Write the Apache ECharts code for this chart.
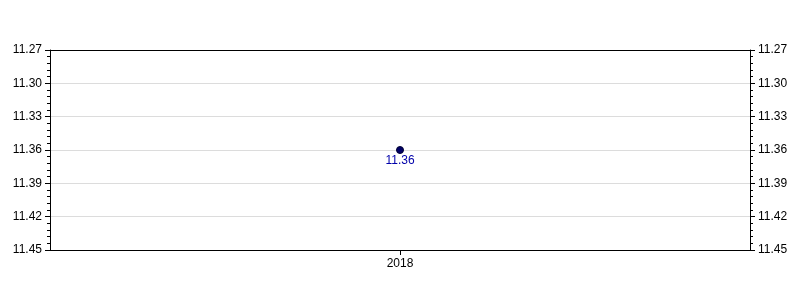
<!DOCTYPE html>
<html><head><meta charset="utf-8">
<script src="https://cdn.jsdelivr.net/npm/echarts@6/dist/echarts.min.js"></script>
<style>html,body{margin:0;padding:0;background:#fff}#c{width:800px;height:300px}</style>
</head><body><div id="c"></div>
<script>
const categories = ['2018'];
const values = [11.36];
const yMin = 11.27, yMax = 11.45, yStep = 0.03;

const chart = echarts.init(document.getElementById('c'), null, {renderer:'canvas'});
const font = {fontFamily:'Liberation Sans, Arial, sans-serif', fontSize:12, color:'#000'};
const yAxisCommon = {
  type:'value', inverse:true, min:yMin, max:yMax, interval:yStep,
  axisLine:{show:true, lineStyle:{color:'#000', width:1}},
  axisTick:{show:true, inside:false, length:5, lineStyle:{color:'#000'}},
  minorTick:{show:true, splitNumber:5, length:3, lineStyle:{color:'#000'}},
  axisLabel:Object.assign({formatter:v=>v.toFixed(2), margin:8}, font),
};
chart.setOption({
  animation:false,
  grid:{left:50, right:50, top:50, bottom:50, containLabel:false},
  xAxis:[
    {type:'category', data:categories, boundaryGap:true, position:'bottom',
     axisLine:{lineStyle:{color:'#000'}},
     axisTick:{show:true, alignWithLabel:true, length:5, lineStyle:{color:'#000'}},
     axisLabel:Object.assign({margin:8}, font), splitLine:{show:false}},
    {type:'category', data:categories, position:'top',
     axisLine:{show:true, lineStyle:{color:'#000'}},
     axisTick:{show:false}, axisLabel:{show:false}, splitLine:{show:false}}
  ],
  yAxis:[
    Object.assign({position:'left', splitLine:{show:true, lineStyle:{color:'#dcdcdc'}}}, yAxisCommon),
    Object.assign({position:'right', splitLine:{show:false}}, yAxisCommon)
  ],
  series:[{
    type:'line', data:values, xAxisIndex:0, yAxisIndex:0,
    symbol:'circle', symbolSize:7,
    itemStyle:{color:'#000066', borderColor:'#000033', borderWidth:1},
    lineStyle:{color:'#000066'},
    label:{show:true, position:'bottom', distance:1, color:'#0000aa',
      fontFamily:'Liberation Sans, Arial, sans-serif', fontSize:12,
      formatter:p=>p.value.toFixed(2)}
  }]
});
</script></body></html>
